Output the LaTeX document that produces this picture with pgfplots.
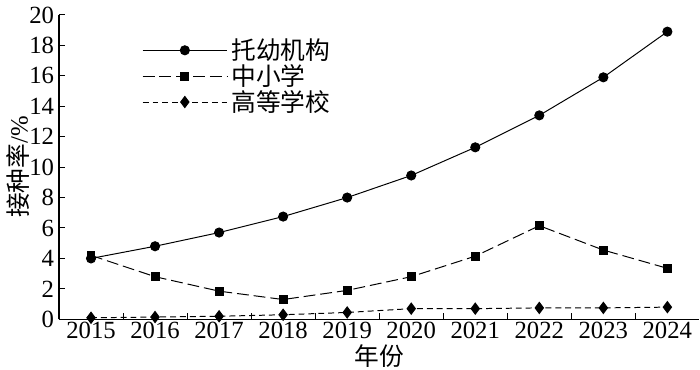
\documentclass[border=0pt]{standalone}
\usepackage{fontspec}
\setmainfont{Liberation Serif}
\newfontfamily\cjk{Noto Sans CJK SC}
\usepackage{pgfplots}
\pgfplotsset{compat=1.18}
\begin{document}
\begin{tikzpicture}
\begin{axis}[
  scale only axis, width=324pt, height=154pt,
  xmin=2014.5, xmax=2024.5, ymin=0, ymax=20,
  axis x line=bottom, axis y line=left, axis line style={-, line width=0.6pt},
  font=\fontsize{12.5}{14}\selectfont,
  /pgf/number format/assume math mode=true,
  /pgf/number format/1000 sep={},
  ytick={0,2,...,20}, tick align=inside, major tick length=3pt,
  xtick={2015.5,2016.5,...,2023.5}, xticklabels={},
  extra x ticks={2015,...,2024},
  extra x tick style={major tick length=0pt, xticklabel style={yshift=2pt}},
  extra x tick labels={2015,2016,2017,2018,2019,2020,2021,2022,2023,2024},
  tick style={black, line width=0.5pt},
  yticklabel style={xshift=1pt},
  ylabel={{\cjk 接种率}/\%}, ylabel style={yshift=-7pt},
  xlabel={\cjk 年份}, xlabel style={yshift=1.5pt, inner sep=1pt},
  legend style={draw=none, fill=none, at={(0.12,0.95)}, anchor=north west, row sep=-3pt, font=\cjk\fontsize{12.5}{13}\selectfont},
  legend cell align=left,
  legend image code/.code={\draw[mark repeat=2,mark phase=2,#1] plot coordinates {(0cm,0cm) (0.75cm,0cm) (1.5cm,0cm)};},
  clip=false,
]
\addplot[black, line width=0.5pt, mark=*, mark size=2.3pt] coordinates {
(2015,4.0) (2016,4.8) (2017,5.7) (2018,6.75) (2019,8.0) (2020,9.45) (2021,11.3) (2022,13.4) (2023,15.9) (2024,18.9)};
\addlegendentry{托幼机构}
\addplot[black, line width=0.5pt, dash pattern=on 6pt off 2.5pt, mark=square*, mark size=2pt, mark options={solid}] coordinates {
(2015,4.2) (2016,2.8) (2017,1.85) (2018,1.3) (2019,1.9) (2020,2.8) (2021,4.15) (2022,6.15) (2023,4.55) (2024,3.35)};
\addlegendentry{中小学}
\addplot[black, line width=0.5pt, dash pattern=on 3pt off 2pt, mark=diamond*, mark size=2.8pt, mark options={solid}] coordinates {
(2015,0.1) (2016,0.15) (2017,0.2) (2018,0.3) (2019,0.45) (2020,0.7) (2021,0.7) (2022,0.75) (2023,0.75) (2024,0.8)};
\addlegendentry{高等学校}
\end{axis}
\end{tikzpicture}
\end{document}
